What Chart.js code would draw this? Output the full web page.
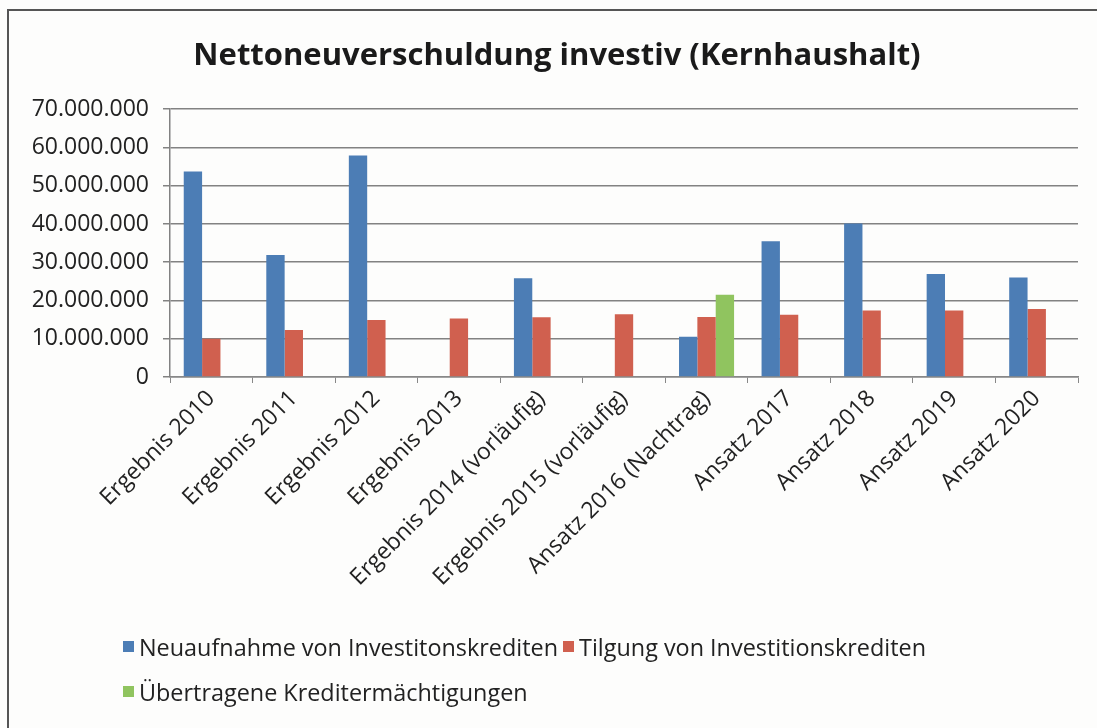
<!DOCTYPE html>
<html lang="de">
<head>
<meta charset="utf-8">
<script src="https://cdn.jsdelivr.net/npm/chart.js@4.4.1/dist/chart.umd.min.js"></script>
<style>
  html, body { margin:0; padding:0; width:1097px; height:728px; overflow:hidden; background:#fdfdfc; }
  #topline { position:absolute; left:7px; top:9px; width:1090px; height:2px; background:#555; }
  #leftline { position:absolute; left:7px; top:9px; width:2px; height:719px; background:#555; }
  #wrap { position:absolute; left:8px; top:10px; width:1089px; height:718px; }
  #legend { position:absolute; left:123px; top:624px; font-family:"Open Sans", sans-serif; font-size:23.4px; color:#222; }
  .row { height:45px; display:flex; align-items:center; white-space:nowrap; }
  .item { display:flex; align-items:center; margin-right:5px; }
  .sw { width:11px; height:11px; margin-right:5px; display:inline-block; }
</style>
</head>
<body>
<div id="wrap"><canvas id="c"></canvas></div>
<div id="topline"></div>
<div id="leftline"></div>
<div id="legend"></div>
<script>
const categories = [
  'Ergebnis 2010', 'Ergebnis 2011', 'Ergebnis 2012', 'Ergebnis 2013',
  'Ergebnis 2014 (vorläufig)', 'Ergebnis 2015 (vorläufig)', 'Ansatz 2016 (Nachtrag)',
  'Ansatz 2017', 'Ansatz 2018', 'Ansatz 2019', 'Ansatz 2020'
];
const neuaufnahme = [53700000, 31900000, 57900000, null, 25800000, null, 10500000, 35500000, 40100000, 26900000, 26000000];
const tilgung     = [10000000, 12300000, 14900000, 15300000, 15600000, 16400000, 15700000, 16300000, 17400000, 17400000, 17800000];
const uebertragen = [null, null, null, null, null, null, 21500000, null, null, null, null];
const seriesNames = ['Neuaufnahme von Investitonskrediten', 'Tilgung von Investitionskrediten', 'Übertragene Kreditermächtigungen'];
const seriesColors = ['#4c7db5', '#d0604f', '#90c45f'];
const yTickLabels = ['0', '10.000.000', '20.000.000', '30.000.000', '40.000.000', '50.000.000', '60.000.000', '70.000.000'];
const titleText = 'Nettoneuverschuldung investiv (Kernhaushalt)';

const FONT = '"Open Sans", sans-serif';

// shift the title block so it is centred over the whole chart frame as in the reference
const titleShift = {
  id: 'titleShift',
  afterLayout(chart) {
    const t = chart.titleBlock;
    if (t) { t.left += 14; t.right += 14; }
  }
};

new Chart(document.getElementById('c'), {
  type: 'bar',
  data: {
    labels: categories,
    datasets: [
      { label: seriesNames[0], data: neuaufnahme, backgroundColor: seriesColors[0] },
      { label: seriesNames[1], data: tilgung, backgroundColor: seriesColors[1] },
      { label: seriesNames[2], data: uebertragen, backgroundColor: seriesColors[2] }
    ]
  },
  plugins: [titleShift],
  options: {
    responsive: true,
    maintainAspectRatio: false,
    animation: false,
    datasets: { bar: { categoryPercentage: 0.667, barPercentage: 1.0 } },
    layout: { padding: { left: 0, right: 19, top: 0, bottom: 111 } },
    plugins: {
      legend: { display: false },
      tooltip: { enabled: false },
      title: {
        display: true,
        text: titleText,
        color: '#1a1a1a',
        font: { family: FONT, size: 31, weight: 'bold' },
        padding: { top: 28, bottom: 34 }
      }
    },
    scales: {
      x: {
        grid: { offset: true, drawOnChartArea: false, drawTicks: true, tickLength: 6, color: '#888' },
        border: { display: true, color: '#888', width: 1.5 },
        ticks: {
          autoSkip: false, minRotation: 45, maxRotation: 45, padding: 2,
          color: '#222', font: { family: FONT, size: 23 }
        },
        afterFit: (s) => { s.height = 240; }
      },
      y: {
        min: 0, max: 70000000,
        ticks: {
          stepSize: 10000000, padding: 14, color: '#222',
          font: { family: FONT, size: 23 },
          callback: (v, i) => yTickLabels[i]
        },
        grid: { color: '#828282', lineWidth: 1.5, tickLength: 7 },
        border: { display: true, color: '#828282', width: 1.5 },
        afterFit: (s) => { s.width = 162; }
      }
    }
  }
});

// Legend (HTML), two rows as in the reference
const legend = document.getElementById('legend');
const rows = [[0, 1], [2]];
rows.forEach(r => {
  const row = document.createElement('div');
  row.className = 'row';
  r.forEach(i => {
    const it = document.createElement('span');
    it.className = 'item';
    const sw = document.createElement('span');
    sw.className = 'sw';
    sw.style.background = seriesColors[i];
    it.appendChild(sw);
    it.appendChild(document.createTextNode(seriesNames[i]));
    row.appendChild(it);
  });
  legend.appendChild(row);
});
</script>
</body>
</html>
